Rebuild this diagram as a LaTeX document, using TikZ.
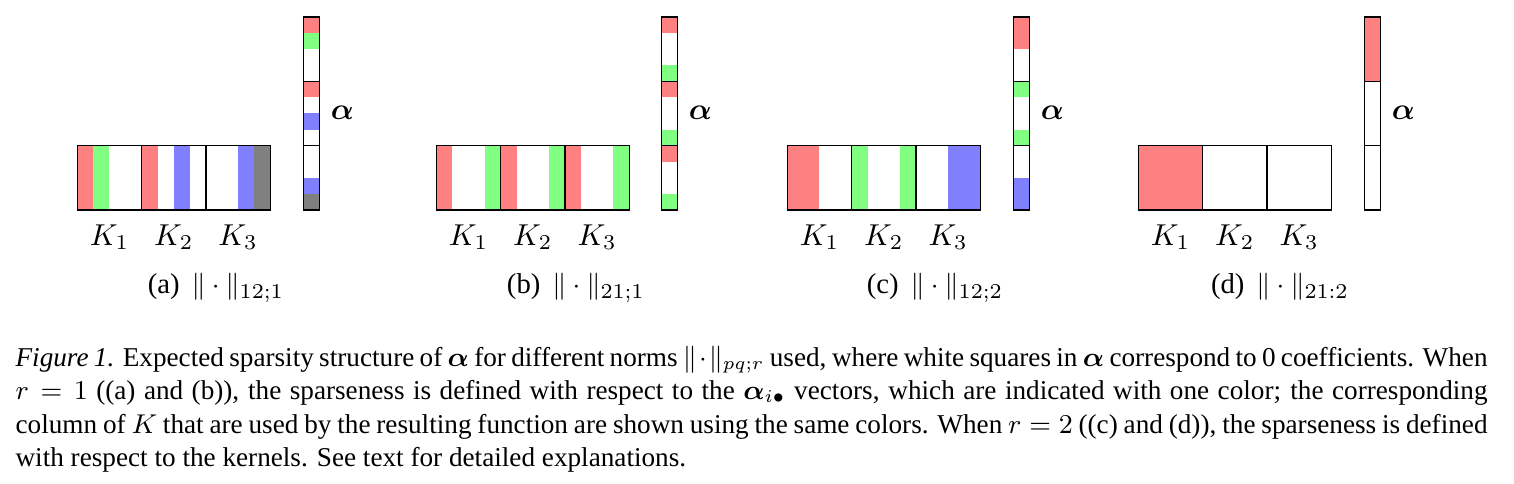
\documentclass[tikz,border=0pt]{standalone}
\usepackage{amsmath}
\usepackage[no-math]{fontspec}
\setmainfont{Liberation Serif}
\newdimen\px \px=0.331pt
\definecolor{cR}{HTML}{FF8080}
\definecolor{cG}{HTML}{80FF80}
\definecolor{cB}{HTML}{8080FF}
\definecolor{cK}{HTML}{808080}
\tikzset{
  frame/.style={draw=black, line width=0.45pt},
  klabel/.style={inner sep=0pt, font=\fontsize{10}{12}\selectfont},
  alabel/.style={inner sep=0pt, font=\fontsize{10}{12}\selectfont},
  sublabel/.style={inner sep=0pt, anchor=base, font=\fontsize{9.5}{11}\selectfont},
  capline/.style={inner sep=0pt, anchor=base west, font=\fontsize{9}{11}\selectfont},
}
\def\cw{16.08}
\def\mt{145.7}
\def\mb{210}
\def\at{17}
% #1 matrix left, #2 alpha left, #3 colour list, #4 panel id
\newcommand\drawpanel[4]{%
  \foreach \c [count=\i from 0] in {#3} {
    \fill[\c] ({#1+\i*\cw},\mt) rectangle ({#1+(\i+1)*\cw},\mb);
    \fill[\c] (#2,{\at+\i*\cw}) rectangle ({#2+16},{\at+(\i+1)*\cw});
  }
  \foreach \j in {0,1,2} {
    \draw[frame] ({#1+\j*4*\cw},\mt) rectangle ({#1+(\j+1)*4*\cw},\mb);
    \draw[frame] (#2,{\at+\j*4*\cw}) rectangle ({#2+16},{\at+(\j+1)*4*\cw});
  }
  \foreach \j [count=\k] in {0,1,2} {
    \node[klabel] (K#4\k) at ({#1+(4*\j+2)*\cw},237) {$K_{\k}$};
  }
  \node[alabel] (alpha#4) at ({#2+39},113) {$\boldsymbol{\alpha}$};
}
\begin{document}
\begin{tikzpicture}[x=0.331pt,y=-0.331pt]
\useasboundingbox (0,0) rectangle (1514,484);
\drawpanel{77.3}{303.3}{cR,cG,white,white, cR,white,cB,white, white,white,cB,cK}{a}
\drawpanel{436.3}{661.3}{cR,white,white,cG, cR,white,white,cG, cR,white,white,cG}{b}
\drawpanel{787.3}{1013.3}{cR,cR,white,white, cG,white,white,cG, white,white,cB,cB}{c}
\drawpanel{1138.3}{1364.3}{cR,cR,cR,cR, white,white,white,white, white,white,white,white}{d}
\node[sublabel] (suba) at (216,294) {(a)\, $\|\cdot\|_{12;1}$};
\node[sublabel] (subb) at (576,294) {(b)\, $\|\cdot\|_{21;1}$};
\node[sublabel] (subc) at (935,294) {(c)\, $\|\cdot\|_{12;2}$};
\node[sublabel] (subd) at (1280,294) {(d)\, $\|\cdot\|_{21:2}$};
\node[capline] (cap1) at (15,366) {\hbox to 1472\px{\textit{Figure 1.} Expected sparsity structure of $\boldsymbol{\alpha}$ for different norms $\|\cdot\|_{pq;r}$ used, where white squares in $\boldsymbol{\alpha}$ correspond to 0 coefficients. When}};
\node[capline] (cap2) at (15,399) {\hbox to 1472\px{$r=1$ ((a) and (b)), the sparseness is defined with respect to the $\boldsymbol{\alpha}_{i\bullet}$ vectors, which are indicated with one color; the corresponding}};
\node[capline] (cap3) at (15,433) {\hbox to 1472\px{column of $K$ that are used by the resulting function are shown using the same colors. When $r=2$ ((c) and (d)), the sparseness is defined}};
\node[capline] (cap4) at (15,466) {with respect to the kernels. See text for detailed explanations.};
\end{tikzpicture}
\end{document}
